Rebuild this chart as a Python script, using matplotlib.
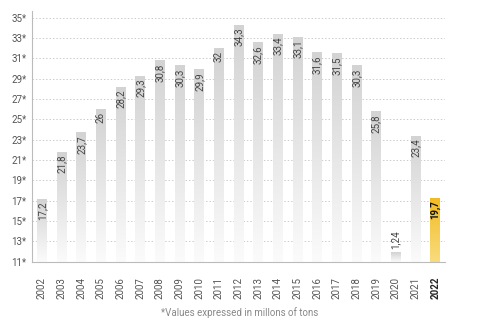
import numpy as np
import matplotlib
matplotlib.use("Agg")
import matplotlib.pyplot as plt
from matplotlib.colors import LinearSegmentedColormap

plt.rcParams["font.family"] = ["Roboto", "DejaVu Sans"]

years = [str(y) for y in range(2002, 2023)]
labels = ["17,2", "21,8", "23,7", "26", "28,2", "29,3", "30,8", "30,3", "29,9",
          "32", "34,3", "32,6", "33,4", "33,1", "31,6", "31,5", "30,3", "25,8",
          "1,24", "23,4", "19,7"]
# bar tops as drawn in the picture (2020 and 2022 are not drawn to scale)
bar_values = [17.2, 21.8, 23.7, 26, 28.2, 29.3, 30.8, 30.3, 29.9, 32, 34.3,
              32.6, 33.4, 33.1, 31.6, 31.5, 30.3, 25.8, 11.95, 23.4, 17.3]
yticks = list(range(11, 36, 2))

base = 11

fig = plt.figure(figsize=(4.8, 3.27), dpi=100)
ax = fig.add_axes([0.067, 0.2, 0.86, 0.765])

gray = LinearSegmentedColormap.from_list("g", ["#fbfbfb", "#d3d3d3"])
gold = LinearSegmentedColormap.from_list("y", ["#f9dc7e", "#f2bb22"])
grad = np.linspace(0, 1, 100).reshape(-1, 1)

x = np.arange(len(years))
w = 0.5
for i, top in enumerate(bar_values):
    last = i == len(bar_values) - 1
    bar = ax.bar(x[i], top - base, bottom=base, width=w, color="none",
                 edgecolor="none", zorder=2)[0]
    im = ax.imshow(grad, cmap=gold if last else gray, aspect="auto",
                   origin="lower", extent=(x[i] - w / 2, x[i] + w / 2, base, top),
                   zorder=2)
    im.set_clip_path(bar)
    if top > base + 2:
        ax.text(x[i], top - 0.3, labels[i], rotation=90, ha="center", va="top",
                fontsize=7, color="#111111" if last else "#444444",
                fontweight="bold" if last else "normal", zorder=3)
    else:
        ax.text(x[i], top + 0.3, labels[i], rotation=90, ha="center", va="bottom",
                fontsize=7, color="#444444", zorder=3)

ax.set_xlim(-0.5, len(years) - 0.5)
ax.set_ylim(base, 35.6)
ax.set_yticks(yticks)
ax.set_yticklabels([f"{t}*" for t in yticks], fontsize=7, color="#555555")
ax.set_xticks(x)
ax.set_xticklabels(years, rotation=90, fontsize=7, color="#555555")
ax.get_xticklabels()[-1].set_fontweight("bold")
ax.get_xticklabels()[-1].set_color("#222222")
ax.tick_params(length=0, pad=4)
ax.tick_params(axis="x", pad=11)

ax.grid(axis="y", linestyle=(0, (1.5, 2)), color="#cccccc", linewidth=0.7, zorder=0)
ax.set_axisbelow(True)
for s in ["top", "right"]:
    ax.spines[s].set_visible(False)
ax.spines["left"].set_color("#bbbbbb")
ax.spines["bottom"].set_color("#bbbbbb")
ax.spines["left"].set_linewidth(0.8)
ax.spines["bottom"].set_linewidth(0.8)

fig.text(0.5, 0.035, "*Values expressed in millons of tons", ha="center",
         fontsize=7, color="#888888")

fig.savefig("out.png", dpi=100)
